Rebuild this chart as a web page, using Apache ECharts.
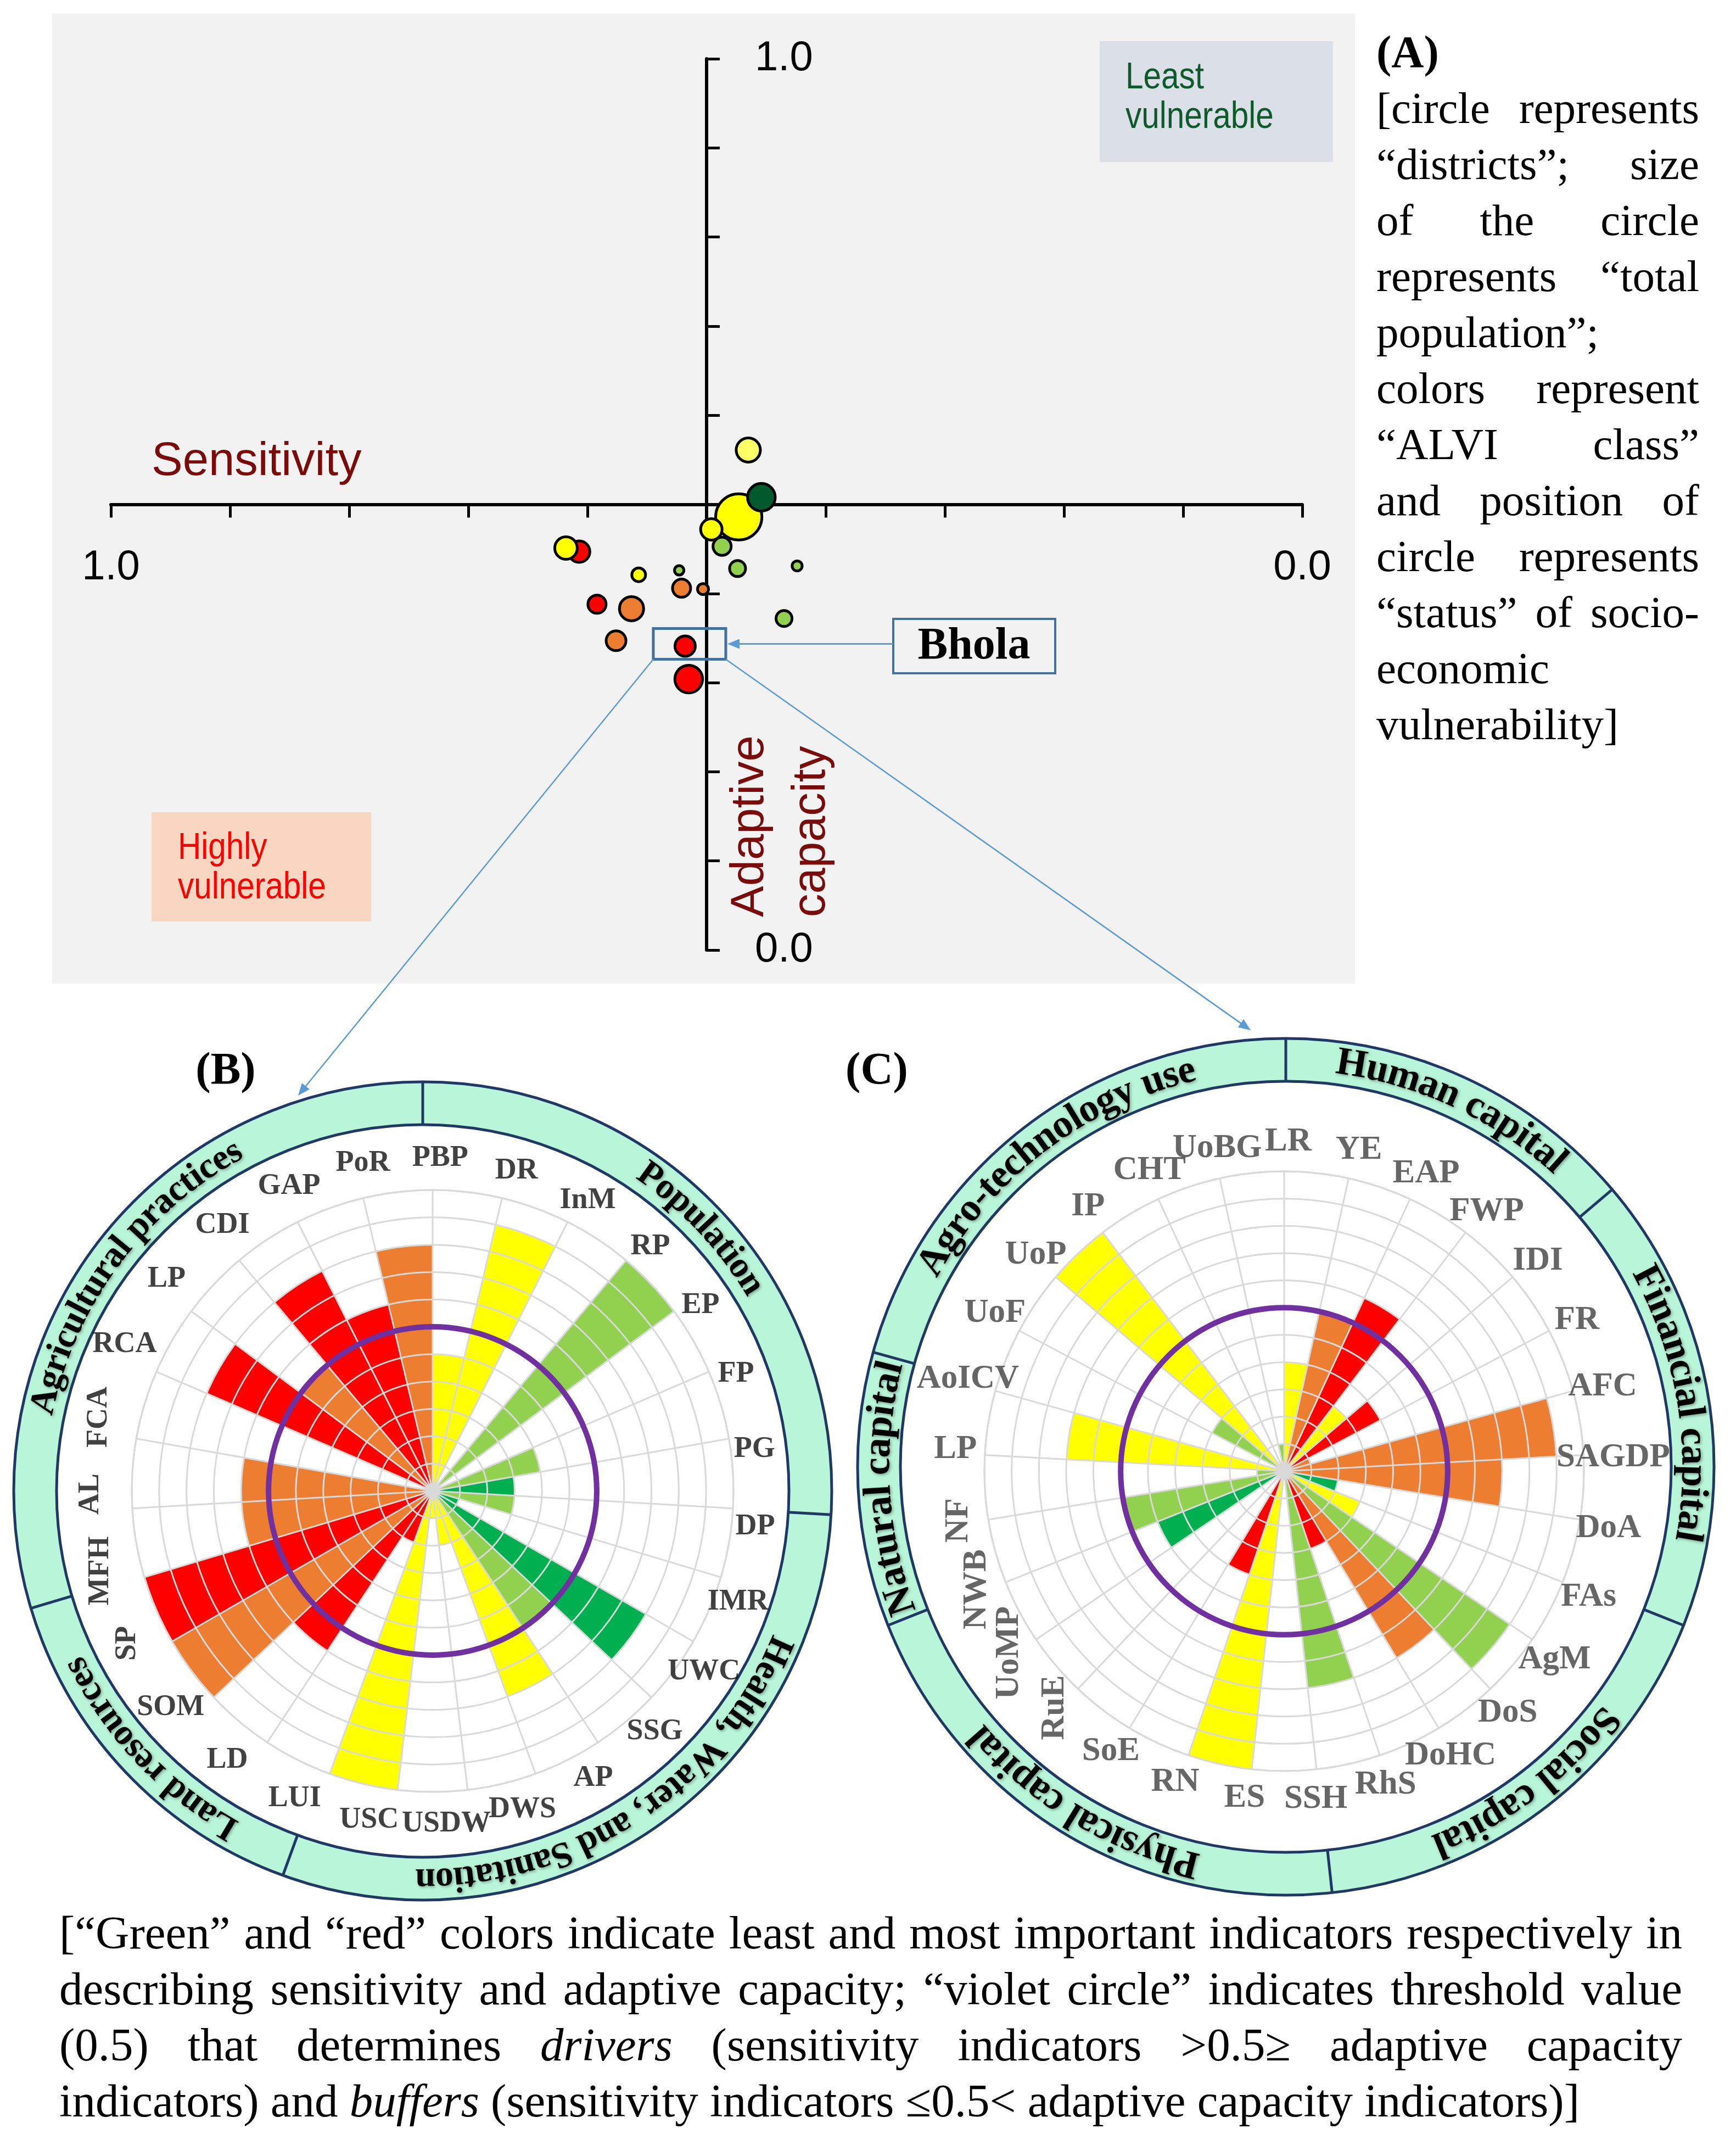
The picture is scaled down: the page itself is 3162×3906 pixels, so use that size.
<!DOCTYPE html>
<html>
<head>
<meta charset="utf-8">
<title>ALVI – sensitivity vs adaptive capacity</title>
<script src="https://cdn.jsdelivr.net/npm/echarts@6/dist/echarts.min.js"></script>
<style>
html,body{margin:0;padding:0;background:#ffffff;}
#c{width:3162px;height:3906px;}
</style>
</head>
<body>
<div id="c"></div>
<script>
// ================= DATA =================
// Panel (A): districts (sensitivity on x, 1.0 at left; adaptive capacity on y)
const districtSensitivity      = [0.607, 0.618, 0.465, 0.473, 0.454, 0.487, 0.496, 0.474, 0.424, 0.435, 0.557, 0.523, 0.521, 0.503, 0.592, 0.563, 0.576, 0.518, 0.515];
const districtAdaptiveCapacity = [0.447, 0.451, 0.561, 0.486, 0.508, 0.453, 0.472, 0.428, 0.431, 0.372, 0.421, 0.426, 0.406, 0.405, 0.388, 0.383, 0.347, 0.341, 0.304];
const districtPopulation       = [2.91, 3.18, 3.61, 11.95, 4.61, 2.17, 2.91, 1.74, 0.81, 1.74, 1.35, 0.73, 2.17, 0.94, 2.17, 3.61, 2.53, 2.65, 4.61]; // millions (estimated)
const districtClass            = ['VH','M','MP','M','VL','L','M','L','L','L','M','L','H','H','VH','H','H','VH','VH'];
const highlightedDistrict      = 17; // Bhola
const axisEndTicks             = [0, 1];

// Panel (B): sensitivity indicators of Bhola
const indicatorsB = ['PBP','DR','InM','RP','EP','FP','PG','DP','IMR','UWC','SSG','AP','DWS','USDW','USC','LUI','LD','SOM','SP','MFH','AL','FCA','RCA','LP','CDI','GAP','PoR'];
const scoresB     = [0.4, 0.9, null, 1.0, null, 0.3, 0.2, 0.2, 0.0, 0.8, 0.5, 0.7, 0.1, 0.0, 1.0, 0.1, 0.6, 1.0, 1.0, 0.6, 0.6, null, 0.8, 0.5, 0.8, 0.6, 0.8];
const importanceB = ['Y','Y','LG','LG','LG','LG','DG','LG','DG','DG','LG','Y','Y','Y','Y','R','R','O','R','O','O','R','R','O','R','R','O'];
const groupNamesB = ['Population', 'Health, Water, and Sanitation', 'Land resources', 'Agricultural practices'];
const groupSizesB = [7, 8, 4, 8];

// Panel (C): adaptive capacity indicators of Bhola
const indicatorsC = ['LR','YE','EAP','FWP','IDI','FR','AFC','SAGDP','DoA','FAs','AgM','DoS','DoHC','RhS','SSH','ES','RN','SoE','RuE','UoMP','NWB','NF','LP','AoICV','UoF','UoP','IP','CHT','UoBG'];
const scoresC     = [0.3, 0.5, 0.6, 0.2, 0.3, 0.0, 0.9, 0.7, 0.1, 0.2, 0.9, 0.7, 0.2, 0.7, null, 1.0, 0.3, null, null, 0.4, 0.5, 0.0, 0.7, null, 0.2, 1.0, null, null, 0.0];
const importanceC = ['Y','O','R','Y','R','O','O','O','DG','Y','LG','O','R','LG','Y','Y','R','R','DG','DG','LG','LG','Y','Y','LG','Y','Y','Y','LG'];
const groupNamesC = ['Human capital', 'Financial capital', 'Social capital', 'Physical capital', 'Natural capital', 'Agro-technology use'];
const groupSizesC = [4, 5, 5, 6, 3, 6];

const thresholdValue = 0.5;

// ================= STYLE =================
const SERIF = '"Liberation Serif", "Times New Roman", serif';
const SANS  = '"Liberation Sans", Arial, sans-serif';
const SCATTER_COLOR = {VH:'#FF0000', H:'#ED7D31', M:'#FFFF00', MP:'#FFFF66', L:'#92D050', VL:'#005A2B'};
const BAR_COLOR = {R:'#FF0000', O:'#ED7D31', Y:'#FFFF00', LG:'#92D050', DG:'#00B050'};
const GRID_GRAY = '#D9D9D9';

const mctx = document.createElement('canvas').getContext('2d');
function tw(text, font){ mctx.font = font; return mctx.measureText(text).width; }
function fnt(size, weight, style, fam){ return (style||'normal') + ' ' + (weight||'normal') + ' ' + size + 'px ' + fam; }
function textEl(text, x, y, o){
  o = o || {};
  const st = {
    text: text, font: o.font, fill: o.fill || '#000',
    align: o.align || 'left', verticalAlign: o.va || 'middle',
    textAlign: o.align || 'left', textVerticalAlign: o.va || 'middle'
  };
  if (o.shadow) { st.textShadowColor = 'rgba(0,0,0,0.35)'; st.textShadowBlur = 5; st.textShadowOffsetX = 2; st.textShadowOffsetY = 2; }
  return { type:'text', x:x, y:y, rotation:o.rotation || 0, scaleX:o.scaleX || 1, z:(o.z==null?20:o.z), silent:true, style:st };
}
function tokenize(str){
  return str.split(/\s+/).filter(Boolean).map(w => (w.length > 2 && w[0]==='*' && w[w.length-1]==='*') ? {s:w.slice(1,-1), it:true} : {s:w, it:false});
}
function lineEls(str, x, y, width, size, justify, weight){
  const toks = tokenize(str);
  const fonts = toks.map(t => fnt(size, weight||'normal', t.it ? 'italic' : 'normal', SERIF));
  const ws = toks.map((t,i) => tw(t.s, fonts[i]));
  const sum = ws.reduce((a,b)=>a+b, 0);
  const sp = tw(' ', fnt(size, 'normal', 'normal', SERIF));
  const gap = (justify && toks.length > 1) ? (width - sum) / (toks.length - 1) : sp;
  const out = []; let cx = x;
  toks.forEach((t,i) => { out.push(textEl(t.s, cx, y, {font:fonts[i]})); cx += ws[i] + gap; });
  return out;
}
function arcText(text, cx, cy, R, midDeg, size){
  const font = fnt(size, 'bold', 'normal', SERIF);
  const chars = Array.from(text);
  const ws = chars.map(ch => tw(ch, font));
  const total = ws.reduce((a,b)=>a+b, 0);
  let a = midDeg * Math.PI / 180 - total / R / 2;
  const out = [];
  chars.forEach((ch,i) => {
    const ang = a + ws[i] / 2 / R;
    a += ws[i] / R;
    if (ch === ' ') return;
    out.push(textEl(ch, cx + R*Math.sin(ang), cy - R*Math.cos(ang), {font:font, align:'center', va:'middle', rotation:-ang, z:4, shadow:true}));
  });
  return out;
}
function arrowHead(x1, y1, x2, y2, len, hw, color){
  const dx = x2-x1, dy = y2-y1, L = Math.hypot(dx,dy), ux = dx/L, uy = dy/L;
  const bx = x2-ux*len, by = y2-uy*len;
  return {type:'polygon', z:16, silent:true, shape:{points:[[x2,y2],[bx-uy*hw, by+ux*hw],[bx+uy*hw, by-ux*hw]]}, style:{fill:color}};
}
function arrowLine(x1, y1, x2, y2, color, w){
  const dx = x2-x1, dy = y2-y1, L = Math.hypot(dx,dy);
  const ex = x2 - dx/L*18, ey = y2 - dy/L*18;
  return [
    {type:'line', z:15, silent:true, shape:{x1:x1, y1:y1, x2:ex, y2:ey}, style:{stroke:color, lineWidth:w}},
    arrowHead(x1, y1, x2, y2, 22, 9, color)
  ];
}

// ================= OPTION =================
const GRID = {left:202, top:107, width:2170, height:1623};
const polar = [], angleAxis = [], radiusAxis = [], series = [];

series.push({
  type:'scatter', xAxisIndex:0, yAxisIndex:0, z:3, silent:true,
  emphasis:{disabled:true},
  itemStyle:{borderColor:'#000', borderWidth:5, opacity:1},
  data: districtSensitivity.map((s,i) => ({
    value:[s, districtAdaptiveCapacity[i]],
    symbolSize: 2*12.9*Math.sqrt(districtPopulation[i]) - 5,
    itemStyle:{color: SCATTER_COLOR[districtClass[i]]}
  }))
});

// cfg: bar centre/radius, label centre/radius/angle shift, fonts
function addPolar(cfg, cats, scores, cls){
  const n = cats.length;
  const pBar = polar.length, pLab = pBar + 1;
  polar.push({center:cfg.center, radius:cfg.radius});
  polar.push({center:cfg.labelCenter, radius:cfg.labelR});
  angleAxis.push({polarIndex:pBar, type:'category', data:cats, boundaryGap:true, startAngle:90, clockwise:true, z:5,
    axisLine:{show:true, lineStyle:{color:GRID_GRAY, width:3}}, axisTick:{show:false, interval:0},
    axisLabel:{show:false, interval:0}, splitLine:{show:true, interval:0, lineStyle:{color:GRID_GRAY, width:3}}, splitArea:{show:false}});
  radiusAxis.push({polarIndex:pBar, type:'value', min:-0.1, max:1.0, interval:0.1, z:5,
    axisLine:{show:false}, axisTick:{show:false}, axisLabel:{show:false},
    splitLine:{show:true, lineStyle:{color:GRID_GRAY, width:3}}, splitArea:{show:false}});
  angleAxis.push({polarIndex:pLab, type:'value', min:0, max:n, startAngle:90, clockwise:true, show:false,
    axisLine:{show:false}, axisTick:{show:false}, axisLabel:{show:false}, splitLine:{show:false}});
  radiusAxis.push({polarIndex:pLab, type:'value', min:0, max:1, show:false,
    axisLine:{show:false}, axisTick:{show:false}, axisLabel:{show:false}, splitLine:{show:false}});
  const sIdx = series.length;
  // innermost ring (below 0) – same colour as the bar
  series.push({type:'bar', coordinateSystem:'polar', polarIndex:pBar, stack:'st'+pBar, barCategoryGap:'0%', z:2, silent:true,
    data: scores.map((v,i) => v == null ? '-' : {value:-0.1, itemStyle:{color:BAR_COLOR[cls[i]]}})});
  series.push({type:'bar', coordinateSystem:'polar', polarIndex:pBar, stack:'st'+pBar, barCategoryGap:'0%', z:2, silent:true,
    data: scores.map((v,i) => v == null ? '-' : {value:v, itemStyle:{color:BAR_COLOR[cls[i]]}})});
  const shift = cfg.labelShiftDeg * n / 360;
  series.push({type:'scatter', coordinateSystem:'polar', polarIndex:pLab, z:6, silent:true, symbolSize:1,
    itemStyle:{color:'rgba(0,0,0,0)'},
    label:{show:true, position:'inside', formatter:'{b}', align:'center', verticalAlign:'middle',
      fontFamily:SERIF, fontWeight:'bold', fontSize:cfg.fs, color:cfg.color},
    data: cats.map((c,i) => ({value:[1, i + shift], name:c, label:{rotate: cfg.rotated.indexOf(c) >= 0 ? 90 : 0}}))});
  return {mainSeries: sIdx + 1, center:cfg.center, n:n};
}

const PB = addPolar({center:[788, 2715], radius:548, labelCenter:[772, 2715], labelR:607, labelShiftDeg:2.8,
  fs:54, color:'#111111', rotated:['SP','MFH','AL','FCA']}, indicatorsB, scoresB, importanceB);
const PC = addPolar({center:[2339, 2679], radius:546, labelCenter:[2339, 2679], labelR:600, labelShiftDeg:0.7,
  fs:61, color:'#404040', rotated:['RuE','UoMP','NWB','NF']}, indicatorsC, scoresC, importanceC);

const endLabel = v => axisEndTicks.some(t => Math.abs(t - v) < 1e-9) ? v.toFixed(1) : '';
const option = {
  animation:false,
  backgroundColor:'#ffffff',
  textStyle:{fontFamily:SANS},
  grid:[{left:GRID.left, top:GRID.top, width:GRID.width, height:GRID.height, containLabel:false, outerBoundsMode:'none', show:false}],
  xAxis:[{type:'value', gridIndex:0, min:0, max:1, interval:0.1, inverse:true, position:'bottom', offset:-GRID.height/2,
    axisLine:{show:true, onZero:false, lineStyle:{color:'#000', width:6}},
    axisTick:{show:true, length:24, lineStyle:{color:'#000', width:5}},
    axisLabel:{show:true, formatter:endLabel, margin:78, fontSize:76, fontFamily:SANS, color:'#000', showMinLabel:true, showMaxLabel:true},
    splitLine:{show:false}}],
  yAxis:[{type:'value', gridIndex:0, min:0, max:1, interval:0.1, position:'left', offset:-GRID.width/2,
    axisLine:{show:true, onZero:false, lineStyle:{color:'#000', width:6}},
    axisTick:{show:true, inside:true, length:24, lineStyle:{color:'#000', width:5}},
    axisLabel:{show:true, inside:true, formatter:endLabel, margin:88, fontSize:76, fontFamily:SANS, color:'#000', showMinLabel:true, showMaxLabel:true},
    splitLine:{show:false}}],
  polar:polar, angleAxis:angleAxis, radiusAxis:radiusAxis,
  series:series
};

const chart = echarts.init(document.getElementById('c'), null, {renderer:'canvas', width:3162, height:3906});
chart.setOption(option);

// ================= ANNOTATIONS =================
const G = [];
// panel A background and boxes
G.push({type:'rect', z:-10, silent:true, shape:{x:95, y:25, width:2373, height:1766}, style:{fill:'#F2F2F2'}});
G.push({type:'rect', z:1, silent:true, shape:{x:2003, y:75, width:425, height:220}, style:{fill:'#DADFE8'}});
G.push(textEl('Least', 2050, 142, {font:fnt(68,'normal','normal',SANS), fill:'#0E5A2A', scaleX:0.86}));
G.push(textEl('vulnerable', 2050, 214, {font:fnt(68,'normal','normal',SANS), fill:'#0E5A2A', scaleX:0.86}));
G.push({type:'rect', z:1, silent:true, shape:{x:276, y:1479, width:400, height:199}, style:{fill:'#F9D6C2'}});
G.push(textEl('Highly', 324, 1545, {font:fnt(68,'normal','normal',SANS), fill:'#FF0000', scaleX:0.86}));
G.push(textEl('vulnerable', 324, 1617, {font:fnt(68,'normal','normal',SANS), fill:'#FF0000', scaleX:0.86}));
G.push(textEl('Sensitivity', 276, 842, {font:fnt(85,'normal','normal',SANS), fill:'#7B0A0A'}));
G.push(textEl('Adaptive', 1367, 1670, {font:fnt(85,'normal','normal',SANS), fill:'#7B0A0A', rotation:Math.PI/2}));
G.push(textEl('capacity', 1479, 1670, {font:fnt(85,'normal','normal',SANS), fill:'#7B0A0A', rotation:Math.PI/2}));

// Bhola highlight
const bp = chart.convertToPixel({seriesIndex:0}, [districtSensitivity[highlightedDistrict], districtAdaptiveCapacity[highlightedDistrict]]);
const hr = {x:bp[0]-58, y:bp[1]-32, w:132, h:56};
G.push({type:'rect', z:14, silent:true, shape:{x:hr.x, y:hr.y, width:hr.w, height:hr.h}, style:{fill:'none', stroke:'#41719C', lineWidth:5}});
G.push({type:'rect', z:14, silent:true, shape:{x:1627, y:1127, width:295, height:99}, style:{fill:'#F2F2F2', stroke:'#41719C', lineWidth:4}});
G.push(textEl('Bhola', 1774, 1178, {font:fnt(82,'bold','normal',SERIF), align:'center', z:15}));
arrowLine(1627, hr.y + hr.h/2, hr.x + hr.w + 3, hr.y + hr.h/2, '#5B9BD5', 3).forEach(e => G.push(e));
arrowLine(hr.x, hr.y + hr.h, 543, 1995, '#5B9BD5', 2.5).forEach(e => G.push(e));
arrowLine(hr.x + hr.w, hr.y + hr.h, 2278, 1876, '#5B9BD5', 2.5).forEach(e => G.push(e));

// right-hand explanatory text (A)
const aLines = [
  ['[circle represents', true], ['“districts”; size', true], ['of the circle', true], ['represents “total', true],
  ['population”;', false], ['colors represent', true], ['“ALVI class”', true], ['and position of', true],
  ['circle represents', true], ['“status” of socio-', true], ['economic', false], ['vulnerability]', false]
];
G.push(textEl('(A)', 2507, 101, {font:fnt(82,'bold','normal',SERIF)}));
aLines.forEach((l,i) => lineEls(l[0], 2507, 203 + 102*i, 588, 81, l[1]).forEach(e => G.push(e)));

// panel letters
G.push(textEl('(B)', 411, 1952, {font:fnt(82,'bold','normal',SERIF), align:'center'}));
G.push(textEl('(C)', 1597, 1952, {font:fnt(82,'bold','normal',SERIF), align:'center'}));

// rings with group names
function ringBlock(cx, cy, rOut, rIn, names, sizes, fs){
  const n = sizes.reduce((a,b)=>a+b,0);
  G.push({type:'ring', z:1, silent:true, shape:{cx:cx, cy:cy, r:rOut, r0:rIn}, style:{fill:'#B8F5D9', stroke:'#1F3864', lineWidth:5}});
  let cum = 0;
  sizes.forEach((s,gi) => {
    const a0 = cum * 2 * Math.PI / n;
    G.push({type:'line', z:2, silent:true, shape:{x1:cx + rIn*Math.sin(a0), y1:cy - rIn*Math.cos(a0), x2:cx + rOut*Math.sin(a0), y2:cy - rOut*Math.cos(a0)}, style:{stroke:'#1F3864', lineWidth:5}});
    const mid = (cum + s/2) * 360 / n;
    arcText(names[gi], cx, cy, (rOut + rIn)/2, mid, fs).forEach(e => G.push(e));
    cum += s;
  });
}
ringBlock(770, 2715, 745, 667, groupNamesB, groupSizesB, 66);
ringBlock(2342, 2671, 780, 702, groupNamesC, groupSizesC, 72);

// threshold (violet) circles, radius from the polar radius axis
[PB, PC].forEach(P => {
  const c0 = chart.convertToPixel({seriesIndex:P.mainSeries}, [-0.1, 0]);
  const p5 = chart.convertToPixel({seriesIndex:P.mainSeries}, [thresholdValue, 0]);
  const r = Math.hypot(p5[0]-c0[0], p5[1]-c0[1]);
  G.push({type:'circle', z:12, silent:true, shape:{cx:P.center[0], cy:P.center[1], r:r}, style:{fill:'none', stroke:'#7030A0', lineWidth:10}});
});

// caption
const capLines = [
  ['[“Green” and “red” colors indicate least and most important indicators respectively in', true],
  ['describing sensitivity and adaptive capacity; “violet circle” indicates threshold value', true],
  ['(0.5) that determines *drivers* (sensitivity indicators >0.5≥ adaptive capacity', true],
  ['indicators) and *buffers* (sensitivity indicators ≤0.5< adaptive capacity indicators)]', false]
];
capLines.forEach((l,i) => lineEls(l[0], 108, 3526 + 102*i, 2956, 85, l[1]).forEach(e => G.push(e)));

chart.setOption({graphic:{elements:G}});
</script>
</body>
</html>
